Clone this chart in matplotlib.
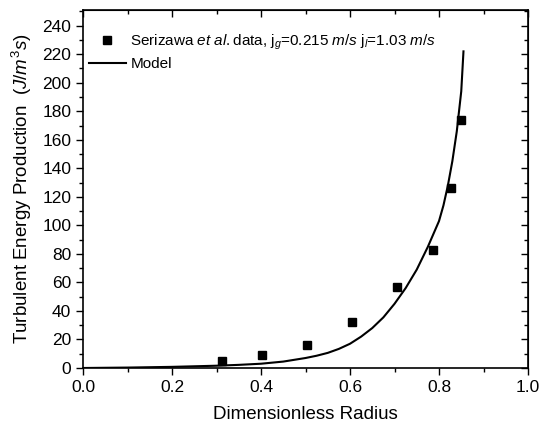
import matplotlib
matplotlib.use('Agg')
import matplotlib.pyplot as plt
from matplotlib.ticker import MultipleLocator

plt.rcParams['font.family'] = ['Liberation Sans', 'DejaVu Sans']
plt.rcParams['mathtext.fontset'] = 'custom'
plt.rcParams['mathtext.rm'] = 'Liberation Sans'
plt.rcParams['mathtext.it'] = 'Liberation Sans:italic'

# Serizawa et al. measured data
r_data = [0.312, 0.402, 0.503, 0.604, 0.706, 0.787, 0.827, 0.849]
p_data = [4.9, 9.1, 16.0, 32.0, 57.0, 83.0, 126.0, 174.0]

# model curve
r_model = [0.0, 0.1, 0.2, 0.3, 0.35, 0.4, 0.45, 0.5, 0.525, 0.55, 0.575, 0.6, 0.625, 0.65,
           0.675, 0.7, 0.725, 0.75, 0.775, 0.8, 0.81, 0.82, 0.83, 0.84, 0.85, 0.855]
p_model = [0.0, 0.3, 0.8, 1.6, 2.2, 3.0, 4.5, 7.0, 8.6, 10.6, 13.4, 17.0, 22.0, 28.0,
           35.5, 45.0, 56.0, 69.0, 85.0, 103.0, 114.0, 128.0, 145.0, 166.0, 194.0, 222.0]

fig = plt.figure(figsize=(5.4, 4.29), dpi=100)
ax = fig.add_axes([83/540, 1 - 368/429, 445/540, 358/429])

ax.plot(r_data, p_data, 's', color='black', markersize=6,
        label=r'Serizawa $\it{et\ al.}$data, j$_g$=0.215 $\it{m/s}$ j$_l$=1.03 $\it{m/s}$')
ax.plot(r_model, p_model, '-', color='black', linewidth=1.5, label='Model')

ax.set_xlim(0, 1.0)
ax.set_ylim(0, 251)
ax.xaxis.set_major_locator(MultipleLocator(0.2))
ax.xaxis.set_minor_locator(MultipleLocator(0.1))
ax.yaxis.set_minor_locator(MultipleLocator(10))
ax.set_yticks(range(0, 241, 20))
ax.xaxis.set_major_formatter(matplotlib.ticker.FormatStrFormatter('%.1f'))

ax.tick_params(which='both', direction='out', labelsize=12.5, width=1)
ax.tick_params(which='major', length=5)
ax.tick_params(which='minor', length=3)

# mirrored ticks on top and right, pointing inward
top = ax.secondary_xaxis('top')
top.set_xticks([0.2 * i for i in range(6)])
top.xaxis.set_minor_locator(MultipleLocator(0.1))
top.tick_params(which='both', direction='in', labeltop=False, width=1)
top.tick_params(which='major', length=5)
top.tick_params(which='minor', length=3)
right = ax.secondary_yaxis('right')
right.set_yticks(range(0, 241, 20))
right.yaxis.set_minor_locator(MultipleLocator(10))
right.tick_params(which='both', direction='in', labelright=False, width=1)
right.tick_params(which='major', length=5)
right.tick_params(which='minor', length=3)

for s in ax.spines.values():
    s.set_linewidth(1.2)

ax.set_xlabel('Dimensionless Radius', fontsize=13.5, labelpad=8)
ax.set_ylabel(r'Turbulent Energy Production  ($\it{J/m^3s}$)', fontsize=13.5, labelpad=6)

ax.legend(loc='upper left', frameon=False, fontsize=11, handlelength=2.4,
          handletextpad=0.3, borderaxespad=0.0, labelspacing=0.35,
          bbox_to_anchor=(0.0, 0.955))

fig.savefig('out.png', dpi=100)
